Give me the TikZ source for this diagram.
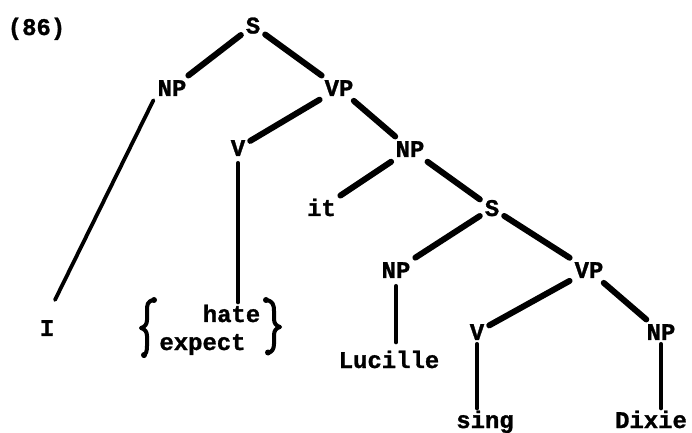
\documentclass[tikz,border=0pt]{standalone}
\usepackage{fontspec}
\newfontfamily\twfont{Liberation Mono}[FakeBold=1.2]
\begin{document}
\begin{tikzpicture}[x=1bp,y=-1bp,
  lbl/.style={font=\twfont\bfseries\fontsize{24}{24}\selectfont, anchor=base,
    inner sep=4bp, text height=15.7bp, text depth=0bp},
  branch/.style={line width=6bp, line cap=round, shorten <=1bp, shorten >=1bp},
  thinbranch/.style={line width=3.8bp, line cap=round},
  stem/.style={line width=4.5bp, line cap=round},
  bracestroke/.style={line width=4bp, line cap=round, line join=round}]
\useasboundingbox (0,0) rectangle (692,433);
\node[lbl] (num) at (36.5,35) {(86)};
\node[lbl] (s1) at (253,33.5) {S};
\node[lbl] (np1) at (172,96) {NP};
\node[lbl] (vp1) at (339,96) {VP};
\node[lbl] (v1) at (238,156) {V};
\node[lbl] (np2) at (410,157) {NP};
\node[lbl] (it) at (321.5,216) {it};
\node[lbl] (s2) at (492,216) {S};
\node[lbl] (np3) at (396,278) {NP};
\node[lbl] (vp2) at (589,278) {VP};
\node[lbl] (v2) at (477,340) {V};
\node[lbl] (np4) at (661,340) {NP};
\node[lbl] (i) at (47,336) {I};
\node[lbl] (hate) at (231.5,322) {hate};
\node[lbl] (expect) at (202.5,350) {expect};
\node[lbl] (lucille) at (389,368) {Lucille};
\node[lbl] (sing) at (485,428) {sing};
\node[lbl] (dixie) at (651,428) {Dixie};
% braces
\draw[bracestroke] (154,300) .. controls (147,301) and (147,305) .. (147,311)
  -- (147,320) .. controls (147,324) and (145,327) .. (141,328)
  .. controls (145,329) and (147,332) .. (147,336)
  -- (147,346) .. controls (147,351) and (146,354) .. (144,356);
\draw[bracestroke] (266,300) .. controls (273,301) and (274,305) .. (274,311)
  -- (274,319) .. controls (274,323) and (276,326) .. (280,327)
  .. controls (276,328) and (274,331) .. (274,335)
  -- (274,344) .. controls (274,349) and (272,352) .. (268,353);
\fill (154,300) circle (3bp) (144,355) circle (3bp) (266,300) circle (3bp) (268,352.5) circle (3bp);
\draw[branch] (s1) -- (np1);
\draw[branch] (s1) -- (vp1);
\draw[thinbranch, shorten >=18bp] (np1.south west) -- (i.north);
\draw[branch] (vp1) -- (v1);
\draw[branch] (vp1) -- (np2);
\draw[stem, shorten <=3bp] (v1.south) -- (v1.south |- hate.north);
\draw[branch] (np2) -- (it);
\draw[branch] (np2) -- (s2);
\draw[branch] (s2) -- (np3);
\draw[branch] (s2) -- (vp2);
\draw[stem, shorten <=4bp, shorten >=6bp] (np3.south) -- (np3.south |- lucille.north);
\draw[branch] (vp2) -- (v2);
\draw[branch] (vp2) -- (np4);
\draw[stem] (v2.south) -- (v2.south |- sing.north);
\draw[stem] (np4.south) -- (np4.south |- dixie.north);
\end{tikzpicture}
\end{document}
